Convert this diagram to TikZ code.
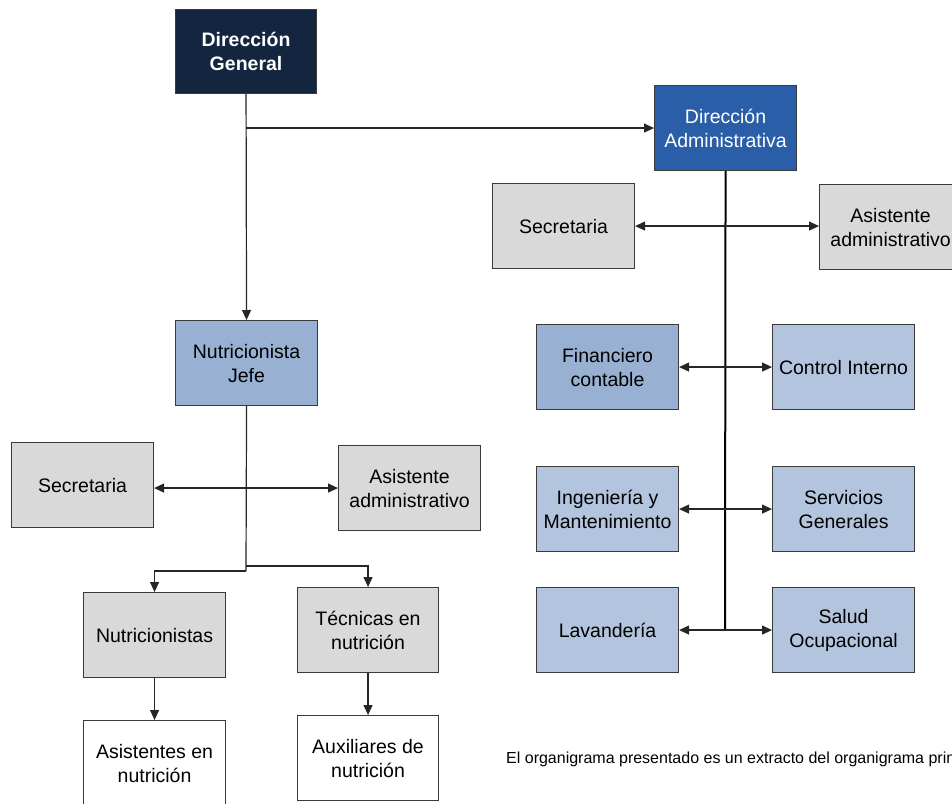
\documentclass[tikz,border=0pt]{standalone}
\usepackage{fontspec}
\setmainfont{Liberation Sans}
\usetikzlibrary{arrows.meta}
\definecolor{navy}{HTML}{13253F}
\definecolor{adminblue}{HTML}{2A5EA8}
\definecolor{midblue}{HTML}{98B0D2}
\definecolor{lightblue}{HTML}{B3C5DE}
\definecolor{boxgrey}{HTML}{D9D9D9}
\definecolor{edge}{HTML}{3A3A3A}
\tikzset{
  box/.style={draw=edge, line width=1.1pt, anchor=north west, align=center,
    minimum width=142pt, minimum height=85pt, inner sep=0pt,
    font=\fontsize{19.5}{24}\selectfont},
  topbox/.style={box, fill=navy, text=white, font=\fontsize{19.5}{24}\selectfont\bfseries},
  adminbox/.style={box, fill=adminblue, text=white},
  headbox/.style={box, fill=midblue},
  unitbox/.style={box, fill=lightblue},
  staffbox/.style={box, fill=boxgrey},
  plainbox/.style={box, fill=white},
  link/.style={draw=black!85, line width=1.2pt},
  tip/.style={-{Triangle[length=10pt,width=9pt]}},
  twotip/.style={{Triangle[length=10pt,width=9pt]}-{Triangle[length=10pt,width=9pt]}},
}
\begin{document}
\begin{tikzpicture}[x=1pt,y=-1pt]
\clip (0,0) rectangle (952,803);
\fill[white] (0,0) rectangle (952,803);

% top level
\node[topbox, minimum width=141pt, minimum height=84pt] (dg) at (175,9) {Dirección\\General};
\node[adminbox] (da) at (654,85) {Dirección\\Administrativa};

% administrative branch
\node[staffbox] (secr) at (492,183) {Secretaria};
\node[staffbox] (asisr) at (819,184) {Asistente\\administrativo};
\node[headbox] (fin) at (536,324) {Financiero\\contable};
\node[unitbox] (ci) at (772,324) {Control Interno};
\node[unitbox] (ing) at (536,466) {Ingeniería y\\Mantenimiento};
\node[unitbox] (sg) at (772,466) {Servicios\\Generales};
\node[unitbox] (lav) at (536,587) {Lavandería};
\node[unitbox] (so) at (772,587) {Salud\\Ocupacional};

% nutrition branch
\node[headbox] (nj) at (175,320) {Nutricionista\\Jefe};
\node[staffbox] (secl) at (11,442) {Secretaria};
\node[staffbox] (asisl) at (338,445) {Asistente\\administrativo};
\node[staffbox] (nut) at (83,592) {Nutricionistas};
\node[staffbox, minimum width=141pt] (tec) at (297,587) {Técnicas en\\nutrición};
\node[plainbox] (asn) at (83,720) {Asistentes en\\nutrición};
\node[plainbox, minimum width=141pt] (aux) at (297,715) {Auxiliares de\\nutrición};

% junction points
\coordinate (hj) at (246,128);
\coordinate (lj) at (246,571);
\coordinate (rj) at (246,566);
\coordinate (dend) at (725,630);

% connectors
\draw[link, tip] (dg.south) -- (nj.north);
\draw[link, tip] (dg.south |- da.west) -- (da.west);
\draw[line width=2pt, black] (da.south) -- (dend);
\draw[link, twotip] (secr.east) -- (secr.east -| asisr.west);
\draw[link, twotip] (fin.east) -- (ci.west);
\draw[link, twotip] (ing.east) -- (sg.west);
\draw[link, twotip] (lav.east) -- (so.west);

\draw[link] (nj.south) -- (lj);
\draw[link, twotip] (secl.east |- asisl.west) -- (asisl.west);
\draw[link, tip] (lj) -| (nut.north);
\draw[link, tip] (rj) -| (tec.north);
\draw[link, tip] (nut.south) -- (asn.north);
\draw[link, tip] (tec.south) -- (aux.north);

% footnote
\node[anchor=base west, inner sep=0pt, font=\fontsize{16}{19}\selectfont] (note) at (506,763)
  {El organigrama presentado es un extracto del organigrama principal};
\end{tikzpicture}
\end{document}
